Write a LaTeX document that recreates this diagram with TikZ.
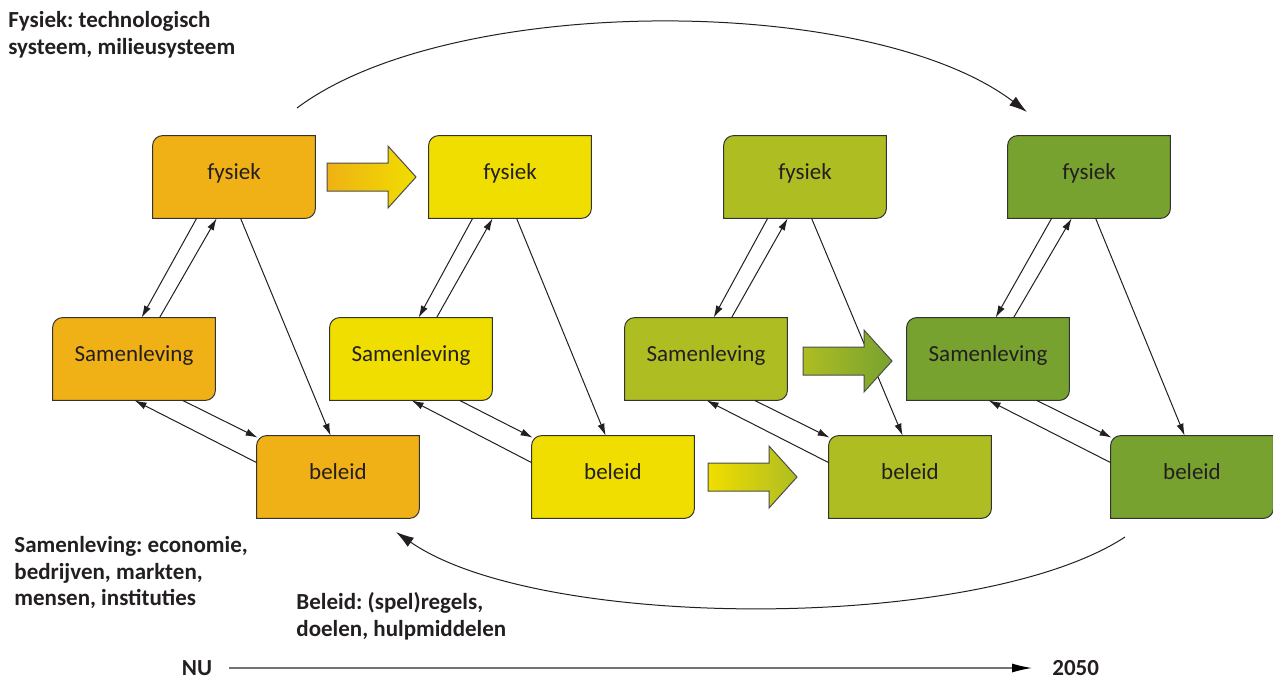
\documentclass[tikz,border=0pt]{standalone}
\usepackage{fontspec}
\setmainfont{Carlito}
\frenchspacing
\usetikzlibrary{arrows.meta,backgrounds,calc}

\definecolor{oranje}{HTML}{EFB115}
\definecolor{geel}{HTML}{F0DE00}
\definecolor{olijf}{HTML}{AEBD22}
\definecolor{groen}{HTML}{78A22F}
\definecolor{tekst}{HTML}{231F20}

\tikzset{
  vak/.style={minimum width=81pt, minimum height=41pt, inner sep=0pt, text=tekst,
    text height=8pt, text depth=5.5pt},
  pijl/.style={-{Latex[length=6pt,width=3.6pt]}, line width=0.5pt, draw=tekst},
  boog/.style={-{Latex[length=9pt,width=5.5pt]}, line width=0.5pt, draw=tekst},
  uitleg/.style={align=left, font=\fontsize{11.5}{13.3}\selectfont\bfseries, text=tekst,
    inner sep=0pt, anchor=north west},
  jaartal/.style={font=\fontsize{11.5}{13.3}\selectfont\bfseries, text=tekst, inner sep=0pt},
  blok/.style={draw=black!70, line width=0.5pt},
}

% vak met twee ronde hoeken (linksboven en rechtsonder)
\newcommand{\vakrand}[2]{%
  \draw[fill=#2, draw=black!80, line width=0.5pt] (#1.south west) -- ([yshift=-5pt]#1.north west)
    arc[start angle=180, end angle=90, radius=5pt] -- (#1.north east)
    -- ([yshift=5pt]#1.south east) arc[start angle=0, end angle=-90, radius=5pt] -- cycle;}

% dikke pijl met kleurverloop
\newcommand{\dikkepijl}[3]{%
  \path[blok, left color=#2, right color=#3] (#1) ++(0,-14) -- ++(61,0) -- ++(0,-17)
    -- ++(28,31) -- ++(-28,31) -- ++(0,-17) -- ++(-61,0) -- cycle;}

\begin{document}
\begin{tikzpicture}[x=0.5pt, y=-0.5pt, font=\fontsize{11.5}{13.5}\selectfont]
\useasboundingbox (0,0) rectangle (1273,681);

% de vier tijdstappen
\node[vak] (f1) at (234,177) {fysiek};
\node[vak] (s1) at (134,359) {Samenleving};
\node[vak] (b1) at (338,477) {beleid};
\node[vak] (f2) at (510,177) {fysiek};
\node[vak] (s2) at (411,359) {Samenleving};
\node[vak] (b2) at (613,477) {beleid};
\node[vak] (f3) at (805,177) {fysiek};
\node[vak] (s3) at (706,359) {Samenleving};
\node[vak] (b3) at (910,477) {beleid};
\node[vak] (f4) at (1089,177) {fysiek};
\node[vak] (s4) at (988,359) {Samenleving};
\node[vak] (b4) at (1192,477) {beleid};

\begin{scope}[on background layer]
  \foreach \k/\c in {1/oranje,2/geel,3/olijf,4/groen} {
    \vakrand{f\k}{\c}
    \vakrand{s\k}{\c}
    \vakrand{b\k}{\c}
  }
\end{scope}

% relaties binnen een tijdstap
\foreach \k in {1,...,4} {
  \draw[pijl] ($(f\k.south west)+(44,0)$) -- ($(s\k.north west)+(89,0)$);
  \draw[pijl] ($(s\k.north west)+(107,0)$) -- ($(f\k.south west)+(64,0)$);
  \draw[pijl] ($(f\k.south west)+(88,0)$) -- ($(b\k.north west)+(74,0)$);
  \draw[pijl] ($(s\k.south west)+(130,0)$) -- ($(b\k.north west)+(1,2)$);
  \draw[pijl] ($(b\k.north west)+(0,27)$) -- ($(s\k.south west)+(82,0)$);
}

% overgangen
\dikkepijl{327,177}{oranje}{geel}
\dikkepijl{708,477}{geel}{olijf}
\dikkepijl{803,361}{olijf}{groen}

% grote bogen
\coordinate (boven1) at (297,108);
\coordinate (boven2) at (1027,112);
\coordinate (onder1) at (1125,537);
\coordinate (onder2) at (396,532);
\draw[boog] (boven1) .. controls (450,-7) and (870,-7) .. (boven2);
\draw[boog] (onder1) .. controls (980,632) and (540,632) .. (onder2);

% toelichting
\node[uitleg] (fys) at (8,11) {Fysiek: technologisch\\systeem, milieusysteem};
\node[uitleg] (sam) at (14,536) {Samenleving: economie,\\bedrijven, markten,\\mensen, instituties};
\node[uitleg] (bel) at (296,592) {Beleid: (spel)regels,\\doelen, hulpmiddelen};

% tijdas
\node[jaartal] (nu) at (197,668) {NU};
\node[jaartal, anchor=west] (jaar) at (1052,668) {2050};
\draw[draw=black!55, line width=0.6pt, -{Latex[length=10pt,width=4.5pt,color=black]}]
  ([xshift=8.5pt]nu.east) -- ([xshift=-10pt]jaar.west);
\end{tikzpicture}
\end{document}
